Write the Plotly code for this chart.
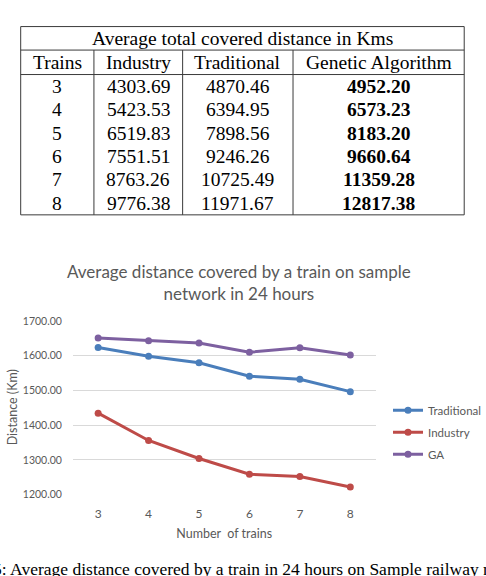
import plotly.graph_objects as go

# ---------------- data ----------------
trains = [3, 4, 5, 6, 7, 8]
industry_total = [4303.69, 5423.53, 6519.83, 7551.51, 8763.26, 9776.38]
traditional_total = [4870.46, 6394.95, 7898.56, 9246.26, 10725.49, 11971.67]
ga_total = [4952.20, 6573.23, 8183.20, 9660.64, 11359.28, 12817.38]
table_title = "Average total covered distance in Kms"
table_headers = ["Trains", "Industry", "Traditional", "Genetic Algorithm"]

# chart series: average distance per train (Km)
traditional_avg = [1623.49, 1598.74, 1579.71, 1541.04, 1532.21, 1496.46]
industry_avg = [1434.56, 1355.88, 1303.97, 1258.59, 1251.89, 1222.05]
ga_avg = [1650.73, 1643.31, 1636.64, 1610.11, 1622.75, 1602.17]
y_ticks = [1200, 1300, 1400, 1500, 1600, 1700]

chart_title = "Average distance covered by a train on sample<br>network in 24 hours"
y_title = "Distance (Km)"
x_title = "Number  of trains"
caption = "Fig. 5: Average distance covered by a train in 24 hours on Sample railway network"

# ---------------- layout helpers ----------------
W, H = 486, 576
def px(x):
    return x / W
def py(y):
    return 1 - y / H

SERIF = "Liberation Serif"
SANS = "Lato"
GRAY = "#595959"

fig = go.Figure()

series = [("Traditional", traditional_avg, "#4A7EBB"),
          ("Industry", industry_avg, "#BE4B48"),
          ("GA", ga_avg, "#7D60A0")]
for name, vals, col in series:
    fig.add_trace(go.Scatter(
        x=trains, y=vals, name=name, mode="lines+markers",
        line=dict(color=col, width=3),
        marker=dict(color=col, size=7, symbol="circle"),
        legendgroup=name,
    ))

# ---------------- table ----------------
tbl_left, tbl_right = 21, 471
tbl_top, title_bot, head_bot, tbl_bot = 21, 45, 70, 213.3
col_edges = [21, 95.3, 185.3, 297.3, 471]
row_h = (tbl_bot - head_bot) / len(trains)

shapes = []
line_style = dict(color="#3a3a3a", width=1)
for yv in [tbl_top, title_bot, head_bot, tbl_bot]:
    shapes.append(dict(type="line", xref="paper", yref="paper",
                       x0=px(tbl_left), x1=px(tbl_right), y0=py(yv), y1=py(yv),
                       line=line_style))
for i, xv in enumerate(col_edges):
    top = tbl_top if i in (0, len(col_edges) - 1) else title_bot
    shapes.append(dict(type="line", xref="paper", yref="paper",
                       x0=px(xv), x1=px(xv), y0=py(top), y1=py(tbl_bot),
                       line=line_style))

annotations = []
def cell(text, xc, yc, bold=False, size=19.5):
    if bold:
        text = "<b>" + text + "</b>"
    annotations.append(dict(text=text, xref="paper", yref="paper",
                            x=px(xc), y=py(yc), xanchor="center", yanchor="middle",
                            showarrow=False, font=dict(family=SERIF, size=size, color="black")))

cell(table_title, (tbl_left + tbl_right) / 2, (tbl_top + title_bot) / 2)
centers = [(col_edges[i] + col_edges[i + 1]) / 2 for i in range(4)]
for j, h in enumerate(table_headers):
    cell(h, centers[j], (title_bot + head_bot) / 2)
for i, t in enumerate(trains):
    yc = head_bot + row_h * (i + 0.5)
    cell(str(t), centers[0], yc)
    cell(f"{industry_total[i]:.2f}", centers[1], yc)
    cell(f"{traditional_total[i]:.2f}", centers[2], yc)
    cell(f"{ga_total[i]:.2f}", centers[3], yc, bold=True)

# chart title
annotations.append(dict(text=chart_title, xref="paper", yref="paper",
                        x=px(242.5), y=py(282), xanchor="center", yanchor="middle",
                        showarrow=False, align="center",
                        font=dict(family=SANS, size=17, color=GRAY)))
# y axis title
annotations.append(dict(text=y_title, xref="paper", yref="paper",
                        x=px(13), y=py(410), xanchor="center", yanchor="middle",
                        textangle=-90, showarrow=False,
                        font=dict(family=SANS, size=12.5, color=GRAY)))
# caption (cut by page edges as in the reference)
annotations.append(dict(text=caption, xref="paper", yref="paper",
                        x=px(-42), y=py(563), xanchor="left", yanchor="top",
                        showarrow=False,
                        font=dict(family=SERIF, size=17.5, color="black")))

fig.update_layout(
    width=W, height=H,
    margin=dict(l=0, r=0, t=0, b=0),
    paper_bgcolor="white", plot_bgcolor="white",
    shapes=shapes, annotations=annotations,
    showlegend=True,
    legend=dict(x=px(394), y=py(398), xanchor="left", yanchor="top",
                font=dict(family=SANS, size=11.5, color=GRAY),
                traceorder="grouped", tracegroupgap=3,
                bgcolor="rgba(0,0,0,0)", itemwidth=30),
    xaxis=dict(domain=[px(74), px(381)], range=[2.5, 8.5],
               tickmode="array", tickvals=trains, ticktext=[str(t) for t in trains],
               showgrid=False, zeroline=False, showline=False,
               ticks="outside", ticklen=8, tickcolor="white",
               tickfont=dict(family=SANS, size=12, color=GRAY),
               title=dict(text=x_title, standoff=9,
                          font=dict(family=SANS, size=12.5, color=GRAY))),
    yaxis=dict(domain=[py(499), py(321.7)], range=[1200, 1700],
               tickmode="array", tickvals=y_ticks,
               ticktext=[f"{v:.2f}" for v in y_ticks],
               showgrid=True, gridcolor="#D9D9D9", gridwidth=1,
               zeroline=False, showline=False,
               ticks="outside", ticklen=8, tickcolor="white",
               tickfont=dict(family=SANS, size=10.5, color=GRAY)),
)

fig.write_html("out.html")
